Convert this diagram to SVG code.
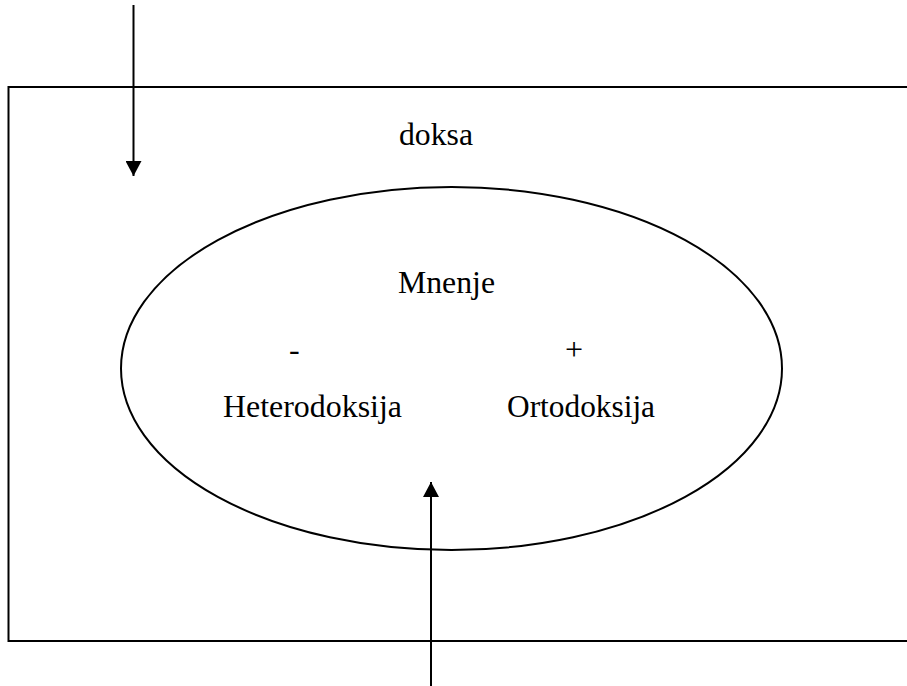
<svg xmlns="http://www.w3.org/2000/svg" width="907" height="686" viewBox="0 0 907 686">
<style>
.ln{stroke:#000;stroke-width:2;fill:none}
.t{font-family:"Liberation Serif","DejaVu Serif",serif;font-size:32px;fill:#000}
</style>
<defs>
<marker id="ah" markerWidth="16" markerHeight="16" refX="15" refY="8" orient="auto" markerUnits="userSpaceOnUse">
<path d="M0,0 L15,8 L0,16 Z" fill="#000"/>
</marker>
</defs>
<rect width="907" height="686" fill="#fff"/>
<g id="doksa-box">
<rect class="ln" x="8.5" y="87" width="920" height="554"/>
<text class="t" x="399" y="145" textLength="74" lengthAdjust="spacingAndGlyphs">doksa</text>
</g>
<g id="mnenje">
<ellipse class="ln" cx="451.5" cy="368.5" rx="330.5" ry="181.5"/>
<text class="t" x="398" y="293" textLength="97" lengthAdjust="spacingAndGlyphs">Mnenje</text>
<text class="t" x="289" y="360">-</text>
<text class="t" x="565" y="360">+</text>
<text class="t" x="223" y="417" textLength="179" lengthAdjust="spacingAndGlyphs">Heterodoksija</text>
<text class="t" x="507" y="417" textLength="148" lengthAdjust="spacingAndGlyphs">Ortodoksija</text>
</g>
<g id="connectors">
<line class="ln" x1="133.5" y1="5" x2="133.5" y2="176" marker-end="url(#ah)"/>
<line class="ln" x1="431" y1="686" x2="431" y2="482" marker-end="url(#ah)"/>
</g>
</svg>
